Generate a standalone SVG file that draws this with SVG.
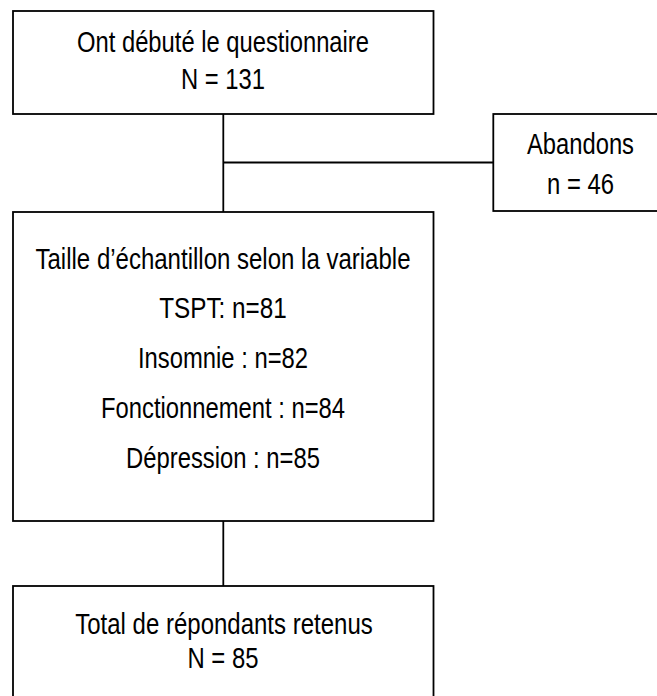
<svg xmlns="http://www.w3.org/2000/svg" width="657" height="696" viewBox="0 0 657 696">
<style>
.box{fill:#fff;stroke:#000;stroke-width:1.8}
.ln{stroke:#000;stroke-width:1.8;fill:none}
text{font-family:"Liberation Sans Narrow","Arial Narrow","Liberation Sans",Arial,sans-serif;font-size:29px;fill:#000;text-anchor:middle}
</style>
<rect width="657" height="696" fill="#fff"/>
<g id="connectors">
<line class="ln" x1="223.3" y1="114" x2="223.3" y2="212"/>
<line class="ln" x1="223.3" y1="162.5" x2="493.3" y2="162.5"/>
<line class="ln" x1="223.3" y1="521" x2="223.3" y2="586"/>
</g>
<g id="start">
<rect class="box" x="13" y="11" width="420.5" height="103"/>
<text x="223" y="51.5" textLength="292" lengthAdjust="spacingAndGlyphs">Ont débuté le questionnaire</text>
<text x="223" y="89" textLength="84" lengthAdjust="spacingAndGlyphs">N = 131</text>
</g>
<g id="abandons">
<rect class="box" x="493.3" y="114" width="200" height="97"/>
<text x="580.5" y="154.3" textLength="107" lengthAdjust="spacingAndGlyphs">Abandons</text>
<text x="580.5" y="194.3" textLength="67" lengthAdjust="spacingAndGlyphs">n = 46</text>
</g>
<g id="sample">
<rect class="box" x="13" y="212" width="420.5" height="309"/>
<text x="223" y="269" textLength="375" lengthAdjust="spacingAndGlyphs">Taille d’échantillon selon la variable</text>
<text x="223" y="318" textLength="127.5" lengthAdjust="spacingAndGlyphs">TSPT: n=81</text>
<text x="223" y="368" textLength="170" lengthAdjust="spacingAndGlyphs">Insomnie : n=82</text>
<text x="223" y="418" textLength="244" lengthAdjust="spacingAndGlyphs">Fonctionnement : n=84</text>
<text x="223" y="468" textLength="194" lengthAdjust="spacingAndGlyphs">Dépression : n=85</text>
</g>
<g id="total">
<rect class="box" x="13" y="586" width="420.5" height="150"/>
<text x="224" y="633.5" textLength="297.5" lengthAdjust="spacingAndGlyphs">Total de répondants retenus</text>
<text x="223" y="668" textLength="71" lengthAdjust="spacingAndGlyphs">N = 85</text>
</g>
</svg>
